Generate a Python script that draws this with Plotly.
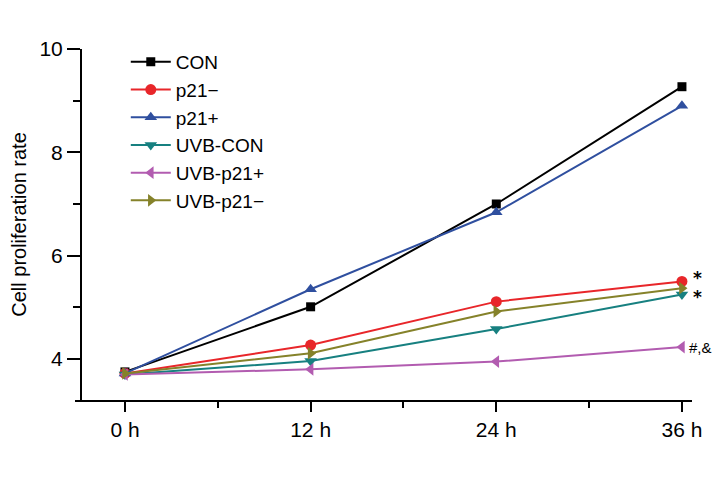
import plotly.graph_objects as go

hours = [0, 12, 24, 36]
tick_labels = ["0 h", "12 h", "24 h", "36 h"]

con = [3.75, 5.01, 7.00, 9.27]
p21_minus = [3.72, 4.27, 5.11, 5.50]
p21_plus = [3.72, 5.35, 6.84, 8.90]
uvb_con = [3.70, 3.96, 4.58, 5.25]
uvb_p21_plus = [3.70, 3.80, 3.95, 4.23]
uvb_p21_minus = [3.72, 4.11, 4.92, 5.37]

series_names = ["CON", "p21\u2212", "p21+", "UVB-CON", "UVB-p21+", "UVB-p21\u2212"]
series_values = [con, p21_minus, p21_plus, uvb_con, uvb_p21_plus, uvb_p21_minus]
colors = ["#000000", "#e8262a", "#2f4f9f", "#178080", "#b25cb0", "#85822a"]
symbols = ["square", "circle", "triangle-up", "triangle-down", "triangle-left", "triangle-right"]
sizes = [9, 11, 11, 11, 11, 11]

FONT = "Liberation Sans Narrow, Liberation Sans, Arial, sans-serif"

fig = go.Figure()
for name, vals, c, s, sz in zip(series_names, series_values, colors, symbols, sizes):
    fig.add_trace(go.Scatter(
        x=hours, y=vals, name=name, mode="lines+markers",
        line=dict(color=c, width=2),
        marker=dict(symbol=s, size=sz, color=c),
    ))

# significance annotations
fig.add_annotation(x=hours[-1], y=p21_minus[-1], text="<b>*</b>", showarrow=False,
                   xshift=16, yshift=3, font=dict(size=17, color="black", family="DejaVu Sans"))
fig.add_annotation(x=hours[-1], y=uvb_con[-1], text="<b>*</b>", showarrow=False,
                   xshift=16, yshift=-3, font=dict(size=17, color="black", family="DejaVu Sans"))
fig.add_annotation(x=hours[-1], y=uvb_p21_plus[-1], text="#,&", showarrow=False,
                   xshift=19, font=dict(size=15, color="black", family=FONT))

W, H = 720, 480
OFF = 8  # page body offset
fig.update_layout(
    width=W, height=H,
    margin=dict(l=0, r=0, t=0, b=0, autoexpand=False),
    plot_bgcolor="white", paper_bgcolor="white",
    font=dict(family=FONT, size=22, color="black"),
    showlegend=True,
    legend=dict(x=0.1747 - OFF / W, y=(H - 43 + OFF) / H, xanchor="left", yanchor="top",
                bgcolor="rgba(0,0,0,0)", font=dict(size=19, family=FONT),
                tracegroupgap=0, itemwidth=40),
    xaxis=dict(
        domain=[(75 - OFF) / W, (692 - OFF) / W],
        range=[-3.23, 36.65],
        tickvals=hours, ticktext=tick_labels,
        ticks="outside", ticklen=10, tickwidth=2, tickcolor="black",
        showline=True, linecolor="black", linewidth=2,
        showgrid=False, zeroline=False,
        minor=dict(tickvals=[6, 18, 30], ticks="outside", ticklen=6,
                   tickwidth=2, tickcolor="black"),
        tickfont=dict(size=21, family=FONT),
        automargin=False,
    ),
    yaxis=dict(
        domain=[(H - 400 + OFF) / H, (H - 49 + OFF) / H],
        anchor="free", position=(81 - OFF) / W,
        range=[3.206, 10],
        tickvals=[4, 6, 8, 10],
        ticks="outside", ticklen=13, tickwidth=2, tickcolor="black",
        showline=True, linecolor="black", linewidth=2,
        showgrid=False, zeroline=False,
        minor=dict(tickvals=[5, 7, 9], ticks="outside", ticklen=7,
                   tickwidth=2, tickcolor="black"),
        tickfont=dict(size=21, family=FONT),
        title=dict(text="Cell proliferation rate", standoff=8,
                   font=dict(size=20, family=FONT)),
        automargin=False,
    ),
)

fig.write_html("out.html")
